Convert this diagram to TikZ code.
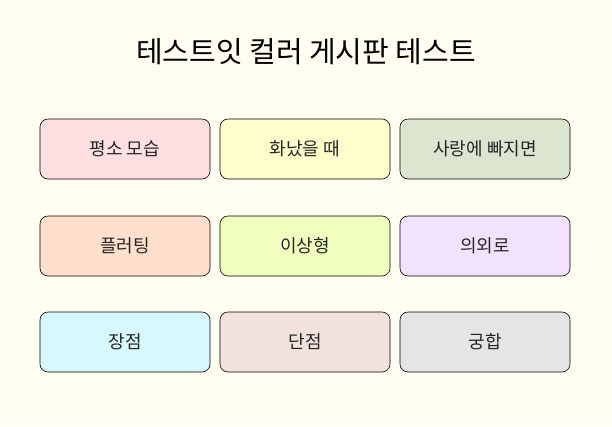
\documentclass[tikz,border=0pt]{standalone}
\usepackage{fontspec}
\newfontfamily\kr{Noto Sans CJK KR}
\begin{document}
\begin{tikzpicture}[x=1pt,y=-1pt,
  box/.style={draw=black,line width=0.6pt,rounded corners=8pt,minimum width=170pt,minimum height=60pt,font=\kr\fontsize{18}{21}\selectfont,text=black!85}]
\fill[fill={rgb,255:red,255;green,254;blue,240}] (0,0) rectangle (612,426);
\useasboundingbox (0,0) rectangle (612,426);
\node[font=\kr\fontsize{29}{33}\selectfont] (title) at (306,52) {테스트잇 컬러 게시판 테스트};
\node[box,fill={rgb,255:red,255;green,224;blue,226}] (a1) at (125,149) {평소 모습};
\node[box,fill={rgb,255:red,255;green,253;blue,204}] (a2) at (305,149) {화났을 때};
\node[box,fill={rgb,255:red,220;green,229;blue,208}] (a3) at (485,149) {사랑에 빠지면};
\node[box,fill={rgb,255:red,255;green,224;blue,204}] (b1) at (125,246) {플러팅};
\node[box,fill={rgb,255:red,240;green,255;blue,192}] (b2) at (305,246) {이상형};
\node[box,fill={rgb,255:red,242;green,226;blue,255}] (b3) at (485,246) {의외로};
\node[box,fill={rgb,255:red,216;green,248;blue,255}] (c1) at (125,342) {장점};
\node[box,fill={rgb,255:red,242;green,226;blue,222}] (c2) at (305,342) {단점};
\node[box,fill={rgb,255:red,229;green,229;blue,229}] (c3) at (485,342) {궁합};
\end{tikzpicture}
\end{document}
